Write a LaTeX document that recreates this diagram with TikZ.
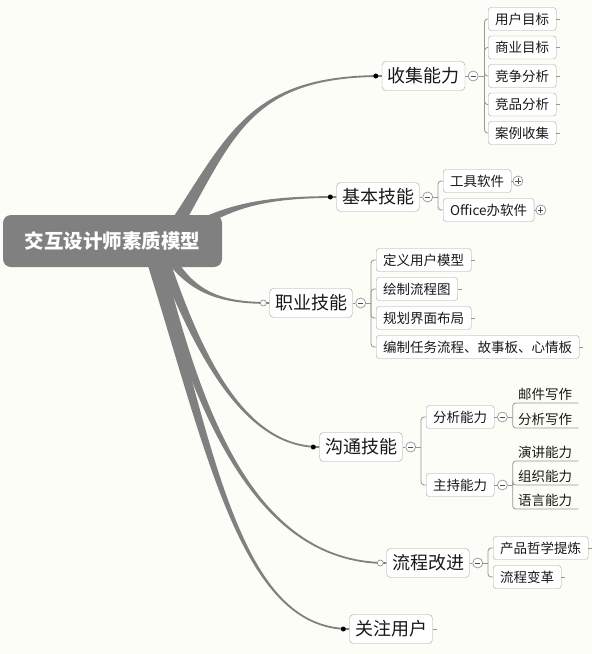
\documentclass[tikz,border=0pt]{standalone}
\usepackage{fontspec}
\setmainfont{Noto Sans CJK SC}
\usepackage{tikz}
\usetikzlibrary{calc}

\definecolor{paper}{RGB}{253,253,247}
\definecolor{trunk}{RGB}{128,128,128}
\definecolor{wire}{RGB}{150,150,150}
\definecolor{frame}{RGB}{165,165,165}

\pgfdeclarelayer{paperlayer}
\pgfdeclarelayer{trunklayer}
\pgfsetlayers{paperlayer,trunklayer,main}

% tapered main branch: start, control 1, control 2, end, half width at start
\newcommand{\trunkline}[5]{%
  \fill[trunk] ($(#1)+(#5)$) .. controls ($(#2)+0.5*(#5)$) and ($(#3)+(0,-0.9)$) .. ($(#4)+(0,-0.9)$)
    -- ($(#4)+(0,0.9)$) .. controls ($(#3)+(0,0.9)$) and ($(#2)-0.5*(#5)$) .. ($(#1)-(#5)$) -- cycle;}

\begin{document}
\begin{tikzpicture}[x=1pt, y=-1pt,
	rootbox/.style={fill=trunk, rounded corners=8, text=white, font=\fontsize{19.5}{22}\selectfont\bfseries, minimum width=219, minimum height=52, inner sep=0, text height=15, text depth=0.6},
	topicbox/.style={draw=frame, fill=white, rounded corners=4, text=black!90, font=\fontsize{18}{20}\selectfont, minimum height=29, inner xsep=5.5, inner ysep=0, text height=14, text depth=0.7},
	subbox/.style={draw=frame, fill=white, rounded corners=3, text=black!90, font=\fontsize{13.5}{16}\selectfont, minimum height=23, inner xsep=7, inner ysep=0, text height=10.5, text depth=0.5, anchor=west},
	ulbox/.style={text=black!90, font=\fontsize{13.5}{16}\selectfont, inner xsep=6, inner ysep=2.5, text height=10.5, text depth=0.5, anchor=south west},
	conn/.style={draw=wire, line width=0.8, rounded corners=3},
	foldcirc/.style={circle, draw=wire, fill=white, line width=0.7, minimum size=10, inner sep=0},
	foldminus/.style={foldcirc, path picture={\draw[black!70, line width=0.8] ([xshift=-2.6]path picture bounding box.center) -- ([xshift=2.6]path picture bounding box.center);}},
	foldplus/.style={foldcirc, path picture={\draw[black!70, line width=0.8] ([xshift=-2.6]path picture bounding box.center) -- ([xshift=2.6]path picture bounding box.center) ([yshift=-2.6]path picture bounding box.center) -- ([yshift=2.6]path picture bounding box.center);}},
	dotend/.style={circle, fill=black, minimum size=5, inner sep=0},
	ringend/.style={circle, draw=wire, fill=white, line width=0.7, minimum size=6, inner sep=0}
]
\begin{pgfonlayer}{paperlayer}
\fill[paper] (0,0) rectangle (592,654);
\end{pgfonlayer}
\useasboundingbox (0,0) rectangle (592,654);

\node[rootbox] (root) at (112.5,241) {交互设计师素质模型};

\node[topicbox] (collect) at (423.5,76)  {收集能力};
\node[topicbox] (basic)   at (378,197)   {基本技能};
\node[topicbox] (career)  at (311,303)   {职业技能};
\node[topicbox] (comm)    at (361,447)   {沟通技能};
\node[topicbox] (flow)    at (428,563)   {流程改进};
\node[topicbox] (user)    at (391,629)   {关注用户};

\node[dotend]  (collect-dot) at ([xshift=-6]collect.west) {};
\node[dotend]  (basic-dot)   at ([xshift=-6]basic.west) {};
\node[ringend] (career-dot)  at ([xshift=-6]career.west) {};
\node[dotend]  (comm-dot)    at ([xshift=-6]comm.west) {};
\node[ringend] (flow-dot)    at ([xshift=-6]flow.west) {};
\node[dotend]  (user-dot)    at ([xshift=-6]user.west) {};

\begin{pgfonlayer}{trunklayer}
\coordinate (s-collect) at ($(root.center)+(55.5,-3)$);
\coordinate (s-basic)   at ($(root.center)+(72.5,-9)$);
\coordinate (s-career)  at ($(root.center)+(52.5,9)$);
\coordinate (s-comm)    at ($(root.center)+(47.5,9)$);
\coordinate (s-flow)    at ($(root.center)+(42.5,9)$);
\coordinate (s-user)    at ($(root.center)+(37.5,9)$);
\trunkline{s-collect}{230,140}{245,76}{collect.west}{-6,-3.7}
\trunkline{s-basic}{230,205}{265,197}{basic.west}{-2.5,-4.5}
\trunkline{s-career}{190,293}{220,303}{career.west}{4.5,-2.5}
\trunkline{s-comm}{195,345}{240,447}{comm.west}{5.5,-2}
\trunkline{s-flow}{195,400}{250,563}{flow.west}{6,-1.5}
\trunkline{s-user}{210,450}{240,629}{user.west}{6.5,-1.5}
\end{pgfonlayer}

% 收集能力
\node[foldminus] (collect-m) at ([xshift=8]collect.east) {};
\coordinate (collect-b) at ([xshift=6]collect-m.east);
\node[subbox] (c1) at (488,19)    {用户目标};
\node[subbox] (c2) at (488,47.5)  {商业目标};
\node[subbox] (c3) at (488,76)    {竞争分析};
\node[subbox] (c4) at (488,104.5) {竞品分析};
\node[subbox] (c5) at (488,133)   {案例收集};
\draw[conn] (collect) -- (collect-m);
\draw[conn] (collect-m) -- (collect-b);
\foreach \n in {c1,c2,c3,c4,c5}
	\draw[conn] (collect-b) |- (\n.west);

% 基本技能
\node[foldminus] (basic-m) at ([xshift=8]basic.east) {};
\coordinate (basic-b) at ([xshift=5]basic-m.east);
\node[subbox] (b1) at (443,181) {工具软件};
\node[subbox] (b2) at (443,210) {Office办软件};
\node[foldplus] (b1-p) at ([xshift=6.5]b1.east) {};
\node[foldplus] (b2-p) at ([xshift=6.5]b2.east) {};
\draw[conn] (basic) -- (basic-m);
\draw[conn] (basic-m) -- (basic-b);
\foreach \n in {b1,b2}
	\draw[conn] (basic-b) |- (\n.west);
\draw[conn] (b1) -- (b1-p);
\draw[conn] (b2) -- (b2-p);

% 职业技能
\node[foldminus] (career-m) at ([xshift=8]career.east) {};
\coordinate (career-b) at ([xshift=5]career-m.east);
\node[subbox] (p1) at (376,260) {定义用户模型};
\node[subbox] (p2) at (376,289) {绘制流程图};
\node[subbox] (p3) at (376,318) {规划界面布局};
\node[subbox] (p4) at (376,347) {编制任务流程、故事板、心情板};
\draw[conn] (career) -- (career-m);
\draw[conn] (career-m) -- (career-b);
\foreach \n in {p1,p2,p3,p4}
	\draw[conn] (career-b) |- (\n.west);

% 沟通技能
\node[foldminus] (comm-m) at ([xshift=8]comm.east) {};
\coordinate (comm-b) at ([xshift=5]comm-m.east);
\node[subbox] (t1) at (426,417) {分析能力};
\node[subbox] (t2) at (426,485) {主持能力};
\draw[conn] (comm) -- (comm-m);
\draw[conn] (comm-m) -- (comm-b);
\foreach \n in {t1,t2}
	\draw[conn] (comm-b) |- (\n.west);

\node[foldminus] (t1-m) at ([xshift=8]t1.east) {};
\coordinate (t1-b) at ([xshift=5]t1-m.east);
\node[ulbox] (t11) at (512,403) {邮件写作};
\node[ulbox] (t12) at (512,428) {分析写作};
\draw[conn] (t1) -- (t1-m);
\draw[conn] (t1-m) -- (t1-b);
\foreach \n in {t11,t12}
	\draw[conn] (t1-b) |- (\n.south east);

\node[foldminus] (t2-m) at ([xshift=8]t2.east) {};
\coordinate (t2-b) at ([xshift=5]t2-m.east);
\node[ulbox] (t21) at (512,461) {演讲能力};
\node[ulbox] (t22) at (512,485) {组织能力};
\node[ulbox] (t23) at (512,509) {语言能力};
\draw[conn] (t2) -- (t2-m);
\draw[conn] (t2-m) -- (t2-b);
\foreach \n in {t21,t22,t23}
	\draw[conn] (t2-b) |- (\n.south east);

% 流程改进
\node[foldminus] (flow-m) at ([xshift=8]flow.east) {};
\coordinate (flow-b) at ([xshift=5]flow-m.east);
\node[subbox] (f1) at (493,548) {产品哲学提炼};
\node[subbox] (f2) at (493,577) {流程变革};
\draw[conn] (flow) -- (flow-m);
\draw[conn] (flow-m) -- (flow-b);
\foreach \n in {f1,f2}
	\draw[conn] (flow-b) |- (\n.west);

% leaf stubs
\foreach \n in {c1,c2,c3,c4,c5,p1,p2,p3,p4,f1,f2,user}
	\draw[conn] (\n.east) -- ++(4,0);
\end{tikzpicture}
\end{document}
